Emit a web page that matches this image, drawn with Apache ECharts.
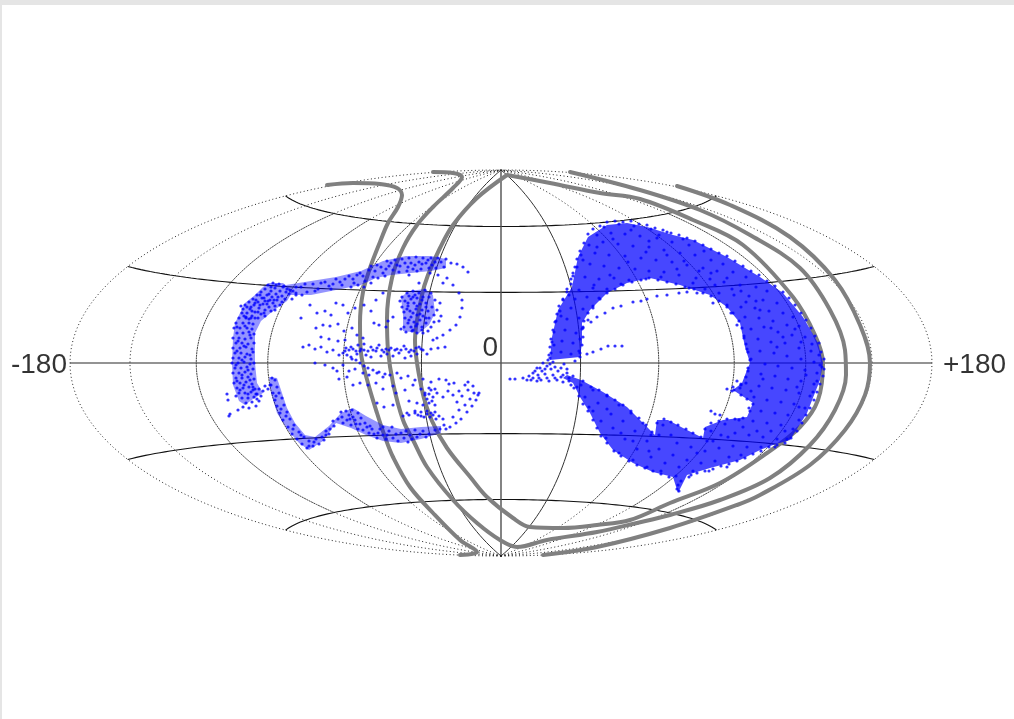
<!DOCTYPE html>
<html><head><meta charset="utf-8">
<style>html,body{margin:0;padding:0;background:#e5e5e5;overflow:hidden;width:1014px;height:719px}
#c{position:absolute;left:2px;top:5px;width:1012px;height:714px;background:#fff}</style>
<script src="https://cdn.jsdelivr.net/npm/echarts@6/dist/echarts.min.js"></script>
</head><body><div id="c"></div>
<script>
// Frame labels
const tickLabels = ['-180','0','+180'];
// Graticule definition (degrees)
const parallelLats = [-60,-30,30,60];
const solidMeridians = [-30,30];
const fineMeridians = [-120,-90,-60,60,90,120];
const coarseMeridians = [-180,-150,150,180];
// Grey curves, in plot units (x right, y up, origin at plot centre)
const curveA = [[-174,178],[-148,180],[-121,179],[-104,175],[-99,168],[-103,156],[-113,140],[-121,121],[-131,95],[-138,71],[-141,40],[-140,10],[-133,-20],[-124,-50],[-116,-74],[-108,-94],[-91,-124],[-68,-150],[-41,-177],[-24,-189],[-41,-192]];
const curveB = [[-68,191],[-48,190],[-39,186],[-48,175],[-68,156],[-84,138],[-98,115],[-109,85],[-114,45],[-113,13],[-108,-20],[-98,-57],[-88,-77],[-74,-104],[-48,-137],[-24,-160],[-1,-177],[16,-184],[46,-177],[96,-169],[136,-160],[169,-152],[219,-137],[269,-115],[309,-82],[334,-47],[345,-12],[344,13],[329,53],[299,95],[249,128],[199,153],[139,173],[69,191]];
const curveC = [[6,188],[-24,165],[-48,138],[-61,115],[-73,88],[-79,68],[-86,23],[-79,-27],[-69,-58],[-54,-85],[-30,-115],[-14,-134],[12,-155],[29,-164],[62,-165],[96,-162],[129,-157],[169,-140],[219,-120],[266,-90],[299,-64],[317,-37],[322,0],[314,28],[292,66],[242,118],[192,143],[139,164],[99,170],[49,180],[6,188]];
const curveD = [[176,177],[229,158],[289,126],[334,83],[359,38],[369,0],[364,-32],[344,-67],[309,-102],[259,-132],[236,-142],[169,-165],[96,-184],[42,-192]];
// Outlines of the densest sampled regions
const crescentOutline = [[49,3],[51,26],[57,53],[71,76],[77,106],[87,126],[106,138],[126,140],[146,136],[172,128],[192,123],[226,106],[259,86],[282,70],[302,46],[317,20],[322,0],[319,-17],[306,-50],[289,-77],[272,-82],[259,-87],[239,-97],[209,-105],[186,-112],[177,-130],[172,-114],[152,-109],[132,-100],[112,-87],[99,-70],[89,-50],[79,-34],[72,-20],[62,-15],[66,-12],[80,-17],[102,-29],[126,-44],[146,-64],[154,-72],[156,-57],[167,-57],[182,-65],[202,-75],[204,-64],[222,-57],[246,-54],[252,-40],[232,-27],[241,-20],[246,-7],[249,0],[244,16],[239,40],[226,56],[209,68],[179,78],[149,85],[126,80],[106,70],[89,53],[81,40],[81,20],[79,6]];
const leftBandOutline = [[-232,80],[-218,80],[-208,72],[-214,62],[-228,52],[-240,42],[-246,30],[-246,0],[-244,-20],[-238,-30],[-248,-36],[-256,-42],[-262,-38],[-268,-22],[-269,0],[-268,25],[-266,40],[-260,52],[-256,60],[-246,68],[-238,76]];
const leftLowerOutline = [[-232,-14],[-224,-15],[-219,-30],[-214,-45],[-206,-60],[-196,-72],[-186,-74],[-172,-63],[-160,-50],[-148,-45],[-135,-53],[-118,-62],[-100,-66],[-80,-64],[-60,-63],[-60,-70],[-80,-76],[-100,-80],[-118,-78],[-135,-72],[-150,-65],[-165,-60],[-178,-78],[-192,-87],[-202,-80],[-214,-66],[-224,-50],[-230,-30]];
const leftUpperOutline = [[-215,78],[-190,82],[-165,86],[-140,92],[-118,102],[-95,107],[-70,107],[-55,104],[-55,95],[-70,92],[-90,90],[-110,88],[-125,85],[-140,78],[-165,73],[-190,68],[-210,68]];
const leftCoreOutline = [[-100,66],[-92,72],[-76,74],[-68,68],[-66,50],[-72,38],[-82,30],[-98,32],[-98,48]];
// Dots of the right crescent
const crescentDots = [[103,136],[118,139],[133,137],[150,134],[166,131],[182,124],[96,128],[110,130],[124,129],[139,127],[156,125],[171,121],[188,118],[203,112],[88,118],[102,121],[117,119],[132,117],[148,116],[163,113],[179,110],[194,108],[210,103],[222,99],[80,108],[94,110],[108,108],[124,107],[140,105],[155,103],[171,101],[186,98],[202,95],[216,92],[232,91],[245,86],[76,96],[89,99],[103,97],[118,95],[134,94],[148,92],[163,91],[178,88],[195,85],[209,84],[223,81],[239,78],[255,76],[266,72],[70,84],[84,86],[98,84],[113,85],[128,83],[145,84],[160,86],[188,75],[204,74],[218,70],[233,68],[248,67],[262,63],[276,60],[66,74],[78,73],[92,75],[106,74],[120,79],[212,60],[226,58],[240,56],[254,55],[268,52],[282,50],[292,46],[62,63],[74,64],[86,66],[98,65],[230,50],[244,46],[258,45],[272,42],[286,38],[298,37],[59,52],[70,55],[82,54],[92,55],[236,38],[250,34],[263,36],[277,31],[291,28],[304,26],[311,19],[55,42],[66,44],[78,45],[87,43],[243,25],[257,24],[270,21],[284,20],[298,15],[310,12],[318,8],[53,31],[64,33],[75,30],[82,35],[246,14],[259,12],[273,10],[286,7],[300,4],[313,1],[321,-4],[51,21],[61,22],[72,20],[79,24],[250,4],[264,-1],[277,-3],[291,-5],[304,-7],[316,-10],[50,10],[60,11],[70,9],[78,12],[247,-8],[260,-11],[274,-13],[287,-16],[300,-18],[313,-21],[52,1],[63,-1],[74,2],[245,-20],[258,-23],[271,-25],[285,-27],[298,-30],[309,-33],[232,-24],[239,-25],[253,-34],[266,-37],[280,-39],[293,-41],[304,-45],[248,-45],[260,-48],[274,-50],[287,-52],[298,-57],[292,-66],[280,-62],[266,-60],[252,-58],[238,-57],[224,-61],[210,-68],[206,-78],[220,-72],[234,-70],[248,-72],[262,-74],[276,-76],[286,-76],[274,-84],[260,-84],[246,-84],[232,-83],[218,-85],[204,-88],[190,-84],[176,-80],[162,-62],[170,-72],[158,-72],[150,-72],[142,-60],[130,-50],[118,-42],[106,-33],[92,-27],[80,-22],[84,-34],[97,-40],[110,-51],[122,-58],[134,-68],[146,-78],[158,-86],[172,-92],[186,-97],[200,-100],[214,-98],[228,-94],[240,-92],[226,-104],[208,-108],[192,-108],[178,-104],[164,-100],[150,-94],[136,-86],[124,-76],[112,-65],[100,-58],[92,-48],[105,-75],[118,-90],[132,-97],[146,-104],[160,-108],[175,-113],[177,-122],[178,-128],[190,-112],[88,-44],[106,-46],[120,-70],[132,-78],[148,-88],[196,-90],[212,-78],[227,-74],[242,-64],[256,-68],[270,-68],[284,-68],[298,-44],[312,-29],[316,-18],[319,-2],[250,-28],[262,-16],[276,16],[294,34],[259,53],[245,61],[231,74],[214,78],[198,92],[183,102],[166,108],[148,122],[130,133],[112,124],[96,116],[82,103],[72,90],[68,68],[60,47],[53,18],[49,5],[158,128],[145,111],[127,101],[109,88],[93,78],[176,94],[192,80],[210,90],[226,85],[240,72],[255,62],[270,35],[282,26],[300,21],[305,-12],[296,-24]];
// Dots along the crescent's rim
const crescentRim = [[48,8],[49,16],[50,24],[52,33],[54,41],[56,49],[58,57],[62,64],[66,71],[70,79],[72,87],[74,96],[76,104],[79,112],[83,120],[87,129],[92,134],[99,137],[106,141],[114,142],[122,141],[130,142],[138,139],[146,138],[154,135],[162,133],[170,130],[178,128],[186,125],[194,122],[202,118],[210,114],[218,110],[226,107],[234,102],[242,97],[250,92],[258,88],[266,82],[274,77],[282,71],[288,65],[294,58],[300,50],[305,43],[310,35],[314,27],[318,20],[320,11],[323,4],[323,-6],[322,-13],[319,-21],[316,-29],[313,-37],[309,-45],[305,-52],[301,-60],[296,-68],[290,-75],[284,-80],[276,-82],[268,-84],[260,-88],[252,-91],[244,-95],[236,-98],[228,-101],[220,-103],[212,-106],[204,-108],[196,-110],[188,-114],[180,-118],[176,-126],[168,-114],[160,-111],[152,-108],[144,-105],[136,-102],[128,-98],[120,-93],[113,-88],[106,-80],[100,-73],[96,-65],[92,-57],[87,-48],[82,-41],[78,-33],[73,-25],[68,-18],[82,-18],[90,-24],[98,-27],[106,-32],[114,-37],[122,-42],[130,-48],[138,-55],[145,-62],[151,-69],[156,-60],[163,-56],[170,-59],[177,-62],[185,-66],[192,-70],[200,-74],[204,-66],[210,-60],[218,-58],[226,-56],[234,-56],[242,-55],[249,-48],[252,-41],[246,-36],[240,-32],[233,-27],[240,-21],[245,-14],[247,-5],[249,3],[247,11],[245,19],[243,27],[241,35],[238,42],[232,50],[226,56],[218,62],[210,67],[202,70],[193,74],[184,76],[175,79],[166,81],[157,83],[148,85],[140,83],[131,81],[122,78],[114,74],[106,70],[99,64],[92,57],[87,50],[83,42],[81,34],[82,26],[81,18],[79,10]];
const crescentStreaks = [[82,36],[90,41],[96,46],[104,50],[112,55],[120,57],[132,61],[140,62],[146,64],[156,67],[166,68],[178,70],[186,71],[196,70],[79,6],[86,9],[92,11],[100,14],[107,17],[114,17],[121,17],[9,-16],[14,-16],[22,-15],[28,-13],[32,-10],[36,-5],[42,0],[47,3],[32,-15],[37,-12],[41,-8],[46,-3],[50,-6],[44,-11],[38,-15],[46,-15],[52,-12],[57,-8],[62,-12],[68,-15],[56,-17],[62,-19],[70,-22],[76,-24],[236,-18],[240,-22],[226,-26],[231,-28],[210,-48],[214,-51],[219,-52],[34,-8],[39,-5],[44,-6],[49,-1],[54,-4],[60,-5],[66,-6],[40,-17],[48,-18],[54,-15],[60,-14],[66,-10],[72,-13],[36,-18],[30,-17],[26,-17]];
// Dots of the left structure
const leftTopCluster = [[-228,80],[-222,79],[-233,78],[-218,76],[-226,75],[-236,74],[-221,72],[-230,72],[-240,71],[-225,69],[-234,68],[-244,68],[-219,67],[-229,66],[-239,65],[-248,64],[-224,63],[-233,62],[-243,61],[-252,61],[-228,60],[-238,59],[-247,58],[-256,58],[-232,56],[-242,55],[-251,54],[-258,54],[-236,53],[-246,51],[-254,50],[-240,49],[-249,47],[-257,47],[-243,45],[-252,44],[-236,47],[-230,52],[-221,58],[-216,64],[-212,69],[-208,72],[-214,74],[-237,65],[-246,60],[-231,63],[-225,78],[-230,76],[-215,71],[-223,66],[-232,69],[-241,68],[-227,63],[-236,62],[-245,63],[-254,56],[-241,58],[-234,59],[-226,57],[-249,52],[-243,51],[-237,50],[-246,45],[-255,46],[-250,56],[-259,50],[-260,57],[-205,68],[-199,68],[-209,64],[-219,61],[-226,53]];
const leftVerticalBand = [[-262,45],[-255,45],[-250,45],[-265,40],[-258,40],[-252,40],[-248,39],[-267,35],[-261,35],[-254,35],[-249,34],[-264,30],[-258,30],[-252,31],[-247,29],[-268,25],[-262,25],[-256,24],[-250,25],[-265,20],[-259,20],[-253,19],[-247,20],[-268,15],[-261,15],[-255,16],[-249,14],[-266,10],[-260,10],[-254,9],[-248,11],[-268,5],[-262,5],[-256,6],[-250,4],[-269,0],[-263,0],[-257,1],[-251,-1],[-247,0],[-266,-5],[-260,-5],[-254,-4],[-248,-6],[-268,-10],[-262,-10],[-256,-9],[-250,-11],[-265,-15],[-259,-15],[-253,-14],[-247,-16],[-267,-20],[-261,-20],[-255,-19],[-249,-21],[-264,-25],[-258,-25],[-252,-24],[-246,-26],[-262,-30],[-256,-30],[-250,-29],[-244,-31],[-259,-35],[-253,-35],[-247,-34],[-240,-33],[-255,-40],[-249,-39],[-242,-38],[-252,-45],[-245,-43],[-274,-31],[-273,-37],[-265,-33],[-263,-47],[-271,-51],[-272,-53],[-258,-44],[-248,-27],[-242,-26],[-236,-23],[-230,-22],[-245,-31],[-238,-28],[-233,-26],[-264,36],[-256,37],[-251,28],[-263,22],[-257,17],[-264,12],[-251,8],[-259,3],[-265,-2],[-253,-7],[-259,-12],[-264,-18],[-251,-17],[-257,-22],[-261,-27],[-248,-24],[-253,-31],[-244,-36]];
const leftLowerCurve = [[-229,-15],[-226,-17],[-231,-22],[-224,-24],[-228,-30],[-222,-30],[-226,-37],[-219,-35],[-224,-43],[-217,-42],[-221,-50],[-214,-49],[-218,-57],[-211,-56],[-213,-64],[-207,-62],[-209,-71],[-202,-69],[-204,-76],[-197,-74],[-199,-81],[-192,-78],[-194,-85],[-188,-83],[-185,-76],[-179,-74],[-182,-81],[-175,-72],[-171,-66],[-175,-68],[-167,-63],[-163,-56],[-168,-58],[-159,-54],[-155,-48],[-149,-47],[-143,-50],[-146,-57],[-152,-52],[-140,-55],[-160,-49],[-136,-60],[-138,-67],[-131,-63],[-127,-71],[-121,-66],[-118,-72],[-112,-68],[-108,-75],[-100,-70],[-97,-75],[-91,-72],[-84,-74],[-78,-68],[-72,-71],[-66,-67],[-61,-66],[-55,-66],[-158,-60],[-150,-62],[-143,-66],[-132,-70],[-124,-75],[-115,-76],[-103,-78],[-93,-79],[-86,-67],[-118,-64],[-109,-64],[-151,-56],[-145,-61],[-225,-33],[-220,-46],[-215,-53],[-208,-66],[-200,-72],[-192,-83],[-187,-79],[-177,-77],[-172,-71],[-154,-57],[-148,-54],[-141,-61],[-134,-64],[-129,-66],[-123,-70],[-114,-72],[-105,-71],[-95,-68],[-89,-76],[-81,-71],[-75,-74]];
const leftThinArcs = [[-51,-64],[-45,-60],[-40,-56],[-34,-49],[-29,-43],[-25,-37],[-23,-32],[-22,-30],[-57,-62],[-48,-54],[-42,-47],[-36,-42],[-31,-36],[-27,-30],[-44,-39],[-39,-33],[-33,-27],[-28,-23],[-36,-22],[-42,-28],[-48,-32],[-53,-28],[-33,-19],[-47,-20],[-55,-17]];
const leftUpperBand = [[-211,73],[-205,70],[-200,76],[-194,71],[-188,79],[-183,74],[-176,81],[-170,74],[-165,84],[-159,78],[-152,87],[-147,80],[-141,90],[-136,82],[-132,93],[-128,86],[-124,98],[-118,90],[-114,102],[-108,93],[-104,98],[-99,104],[-94,92],[-90,100],[-85,106],[-80,94],[-75,100],[-70,105],[-65,95],[-60,101],[-55,104],[-50,100],[-44,99],[-38,96],[-33,91],[-120,96],[-112,97],[-102,91],[-96,100],[-88,94],[-82,101],[-72,95],[-66,101],[-78,105],[-92,105],[-106,103],[-57,96],[-130,97],[-144,88],[-156,84],[-168,79],[-180,80],[-196,79],[-150,76],[-143,78],[-137,76],[-130,80],[-123,85],[-115,94],[-110,100],[-101,97],[-93,96],[-86,98],[-79,99],[-73,103],[-69,98],[-63,105],[-116,87],[-126,92],[-138,87],[-148,84],[-161,81],[-172,77],[-186,72],[-205,76],[-217,77],[-92,88],[-84,92]];
const leftRightArc = [[-54,85],[-48,78],[-42,70],[-39,63],[-39,55],[-41,46],[-45,38],[-51,33],[-58,28],[-64,25],[-68,23],[-71,90],[-63,88],[-58,80],[-82,80],[-88,66]];
const leftCoreCluster = [[-99,66],[-94,70],[-88,72],[-82,70],[-76,73],[-70,70],[-96,62],[-90,64],[-84,65],[-78,66],[-72,66],[-66,63],[-61,60],[-99,56],[-93,57],[-87,60],[-81,59],[-75,60],[-69,56],[-64,53],[-60,47],[-97,51],[-91,52],[-85,54],[-79,53],[-73,52],[-67,48],[-62,42],[-96,45],[-90,46],[-84,48],[-78,47],[-72,45],[-67,41],[-93,40],[-87,41],[-81,43],[-75,40],[-70,36],[-90,36],[-85,37],[-79,36],[-73,32],[-100,34],[-95,31],[-89,32],[-84,30],[-78,30],[-92,67],[-86,68],[-79,63],[-93,60],[-84,57],[-88,50],[-81,49],[-92,43],[-84,39],[-88,33],[-97,36],[-75,56],[-75,45],[-79,33],[-94,54]];
const leftSparse = [[-191,58],[-184,50],[-176,52],[-170,48],[-165,60],[-158,58],[-153,50],[-146,55],[-178,38],[-171,37],[-163,39],[-157,32],[-149,35],[-185,35],[-180,26],[-172,24],[-163,22],[-156,23],[-144,28],[-138,25],[-125,63],[-118,70],[-127,40],[-122,38],[-115,36],[-113,42],[-108,46],[-101,62],[-200,45],[-130,52],[-137,58]];
const leftMidBands = [[-198,16],[-192,18],[-186,14],[-180,16],[-174,11],[-168,13],[-162,8],[-156,12],[-150,6],[-144,9],[-140,14],[-135,8],[-130,6],[-125,12],[-120,7],[-114,9],[-108,7],[-102,10],[-96,5],[-90,7],[-84,9],[-78,13],[-74,9],[-70,14],[-63,15],[-56,16],[-150,16],[-143,18],[-137,19],[-130,16],[-122,18],[-115,14],[-106,13],[-97,17],[-90,13],[-82,16],[-186,0],[-176,-2],[-168,-5],[-164,-8],[-158,-2],[-152,-8],[-146,-6],[-138,-10],[-132,-12],[-124,-10],[-118,-14],[-111,-12],[-104,-10],[-162,-16],[-154,-14],[-148,-22],[-141,-20],[-133,-22],[-125,-20],[-118,-26],[-108,-23],[-100,-15],[-93,-13],[-86,-17],[-78,-16],[-70,-19],[-62,-16],[-52,-21],[-105,-30],[-96,-27],[-88,-22],[-80,-26],[-72,-25],[-64,-30],[-58,-34],[-124,-40],[-117,-44],[-108,-42],[-92,-38],[-84,-40],[-78,-42],[-72,-40],[-66,-42],[-92,-52],[-86,-50],[-80,-53],[-74,-51],[-68,-52],[-62,-53],[-58,-56],[-76,-32],[-68,-34]];
const leftDenseStreaks = [[-155,15],[-152,13],[-148,14],[-145,12],[-141,12],[-137,13],[-133,12],[-128,13],[-124,15],[-119,13],[-117,11],[-112,13],[-110,15],[-104,14],[-100,13],[-95,14],[-92,11],[-87,12],[-85,15],[-80,14],[-158,10],[-154,8],[-149,4],[-145,3],[-141,0],[-137,-3],[-133,-5],[-128,-7],[-122,-9],[-116,-11],[-86,-48],[-80,-49],[-74,-48],[-70,-50],[-66,-49],[-83,-52],[-77,-54],[-71,-54],[-65,-56],[-94,-50],[-98,-53],[-76,-30],[-72,-31],[-70,-27],[-66,-26],[-74,-36],[-69,-38]];

function hammer(lon, lat){
  const l = lon*Math.PI/180, p = lat*Math.PI/180;
  const d = Math.sqrt(1+Math.cos(p)*Math.cos(l/2));
  return [431*Math.cos(p)*Math.sin(l/2)/d, 193*Math.sin(p)/d];
}
function span(a,b,s){const o=[];for(let v=a;v<=b;v+=s)o.push(v);return o;}
function meridian(lon,a,b){return span(a,b,2).map(p=>hammer(lon,p));}
function parallel(lat){return span(-180,180,3).map(l=>hammer(l,lat));}
function frame(data,color,width,type){
  return {type:'line',data,showSymbol:false,symbol:'none',silent:true,clip:false,z:1,animation:false,
    lineStyle:{color,width,type,cap:'butt'}};
}
function region(outline,fill){
  return {type:'custom',data:outline,silent:true,z:3,clip:false,animation:false,coordinateSystem:'cartesian2d',
    renderItem:(p,api)=>{ if(p.dataIndex!==0) return null;
      return {type:'polygon',shape:{points:outline.map(d=>api.coord(d))},style:{fill}};}};
}
const series=[];
parallelLats.forEach(p=>series.push(frame(parallel(p),'#111',1.1,'solid')));
series.push(frame(parallel(0),'#707070',1.5,'solid'));
series.push(frame(meridian(0,-90,90),'#505050',1.4,'solid'));
solidMeridians.forEach(m=>series.push(frame(meridian(m,-90,90),'#333',1,'solid')));
fineMeridians.forEach(m=>{
  series.push(frame(meridian(m,-60,60),'#444',1,[2,0.6]));
  series.push(frame(meridian(m,-90,-60),'#222',1,[1,2.6]));
  series.push(frame(meridian(m,60,90),'#222',1,[1,2.6]));
});
coarseMeridians.forEach(m=>series.push(frame(meridian(m,-90,90),'#222',1,[1,2.6])));
[curveA,curveB,curveC,curveD].forEach(c=>series.push({type:'line',data:c,smooth:0.35,showSymbol:false,symbol:'none',silent:true,clip:false,z:2,animation:false,lineStyle:{color:'#808080',width:4,cap:'round',join:'round'}}));
series.push(region(crescentOutline,'rgba(0,0,255,0.72)'));
[leftBandOutline,leftLowerOutline,leftUpperOutline,leftCoreOutline].forEach(o=>series.push(region(o,'rgba(0,0,255,0.42)')));
[crescentDots,crescentRim,crescentStreaks,leftTopCluster,leftVerticalBand,leftLowerCurve,leftThinArcs,leftUpperBand,leftRightArc,leftCoreCluster,leftSparse,leftMidBands,leftDenseStreaks].forEach(d=>series.push({
  type:'scatter',data:d,symbolSize:3.2,silent:true,z:4,clip:false,animation:false,itemStyle:{color:'#0000ff'}}));
const labelFont={color:'#000',fontFamily:'Liberation Sans',fontSize:28};
series.push({type:'scatter',symbolSize:0,silent:true,z:5,clip:false,animation:false,
  data:[
    {value:[-431,-2],label:{show:true,position:'left',distance:3,formatter:tickLabels[0],...labelFont}},
    {value:[-3,15],label:{show:true,position:'left',distance:0,formatter:tickLabels[1],...labelFont}},
    {value:[431,-2],label:{show:true,position:'right',distance:11,formatter:tickLabels[2],...labelFont}}
  ]});
const chart=echarts.init(document.getElementById('c'),null,{renderer:'canvas'});
chart.setOption({animation:false,backgroundColor:'#fff',
  grid:{left:68,top:165,width:862,height:386},
  xAxis:{type:'value',min:-431,max:431,show:false},
  yAxis:{type:'value',min:-193,max:193,show:false},
  tooltip:{show:false},series});
</script></body></html>
